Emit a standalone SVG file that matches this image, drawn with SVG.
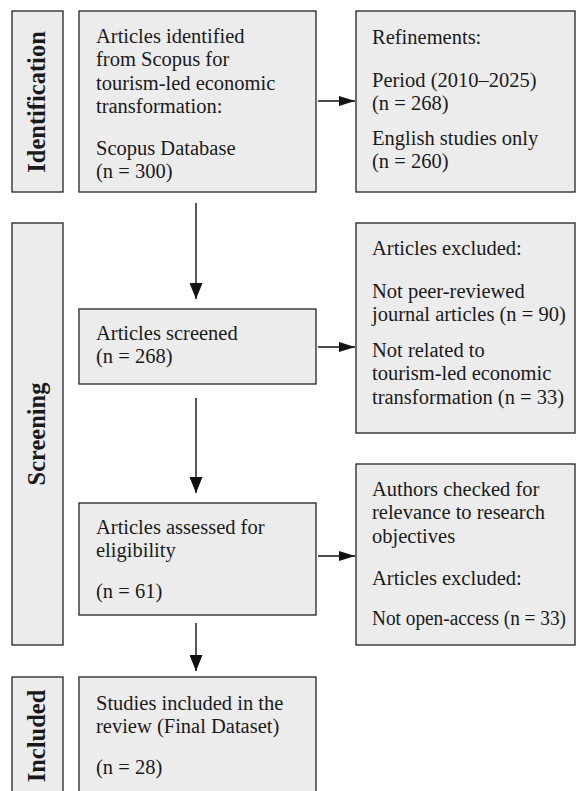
<svg xmlns="http://www.w3.org/2000/svg" width="586" height="791" viewBox="0 0 586 791">
<style>
.box{fill:#ececec;stroke:#333;stroke-width:1.4}
.t{font-family:"Liberation Serif","Times New Roman",serif;font-size:20.5px;fill:#1a1a1a}
.lab{font-family:"Liberation Serif","Times New Roman",serif;font-size:24.5px;font-weight:bold;fill:#1a1a1a}
.c{stroke:#111;stroke-width:1.4;fill:none}
</style>
<defs>
<marker id="av" markerUnits="userSpaceOnUse" markerWidth="16" markerHeight="13" refX="16" refY="6.5" orient="auto">
<path d="M0,0 L16,6.5 L0,13 z" fill="#111"/>
</marker>
<marker id="ah" markerUnits="userSpaceOnUse" markerWidth="16" markerHeight="10" refX="16" refY="5" orient="auto">
<path d="M0,0 L16,5 L0,10 z" fill="#111"/>
</marker>
</defs>
<g id="stage-identification">
<rect class="box" x="12" y="11" width="51" height="181"/>
<text class="lab" transform="translate(45,102) rotate(-90)" text-anchor="middle">Identification</text>
</g>
<g id="stage-screening">
<rect class="box" x="12" y="223" width="51" height="422"/>
<text class="lab" transform="translate(45,434) rotate(-90)" text-anchor="middle">Screening</text>
</g>
<g id="stage-included">
<rect class="box" x="12" y="677" width="51" height="130"/>
<text class="lab" transform="translate(45,736) rotate(-90)" text-anchor="middle">Included</text>
</g>
<g id="identified">
<rect class="box" x="79" y="11" width="237" height="181"/>
<text class="t" x="96" y="43">Articles identified</text>
<text class="t" x="96" y="66">from Scopus for</text>
<text class="t" x="96" y="90">tourism-led economic</text>
<text class="t" x="96" y="113">transformation:</text>
<text class="t" x="96" y="155">Scopus Database</text>
<text class="t" x="96" y="178">(n = 300)</text>
</g>
<g id="refinements">
<rect class="box" x="356" y="11" width="219" height="181"/>
<text class="t" x="372" y="44">Refinements:</text>
<text class="t" x="372" y="87">Period (2010–2025)</text>
<text class="t" x="372" y="110">(n = 268)</text>
<text class="t" x="372" y="145">English studies only</text>
<text class="t" x="372" y="168">(n = 260)</text>
</g>
<g id="screened">
<rect class="box" x="79" y="309" width="237" height="75"/>
<text class="t" x="96" y="340">Articles screened</text>
<text class="t" x="96" y="363">(n = 268)</text>
</g>
<g id="excluded1">
<rect class="box" x="356" y="223" width="219" height="210"/>
<text class="t" x="372" y="255">Articles excluded:</text>
<text class="t" x="372" y="298">Not peer-reviewed</text>
<text class="t" x="372" y="321">journal articles (n = 90)</text>
<text class="t" x="372" y="357">Not related to</text>
<text class="t" x="372" y="380">tourism-led economic</text>
<text class="t" x="372" y="404">transformation (n = 33)</text>
</g>
<g id="assessed">
<rect class="box" x="79" y="503" width="237" height="112"/>
<text class="t" x="96" y="534">Articles assessed for</text>
<text class="t" x="96" y="557">eligibility</text>
<text class="t" x="96" y="598">(n = 61)</text>
</g>
<g id="excluded2">
<rect class="box" x="356" y="464" width="219" height="181"/>
<text class="t" x="372" y="496">Authors checked for</text>
<text class="t" x="372" y="519">relevance to research</text>
<text class="t" x="372" y="543">objectives</text>
<text class="t" x="372" y="585">Articles excluded:</text>
<text class="t" x="372" y="625" textLength="194" lengthAdjust="spacingAndGlyphs">Not open-access (n = 33)</text>
</g>
<g id="included">
<rect class="box" x="79" y="677" width="237" height="130"/>
<text class="t" x="96" y="710">Studies included in the</text>
<text class="t" x="96" y="733">review (Final Dataset)</text>
<text class="t" x="96" y="774">(n = 28)</text>
</g>
<g id="connectors">
<line class="c" x1="318" y1="101" x2="355" y2="101" marker-end="url(#ah)"/>
<line class="c" x1="196" y1="203" x2="196" y2="299" marker-end="url(#av)"/>
<line class="c" x1="318" y1="347" x2="355" y2="347" marker-end="url(#ah)"/>
<line class="c" x1="196" y1="398" x2="196" y2="493" marker-end="url(#av)"/>
<line class="c" x1="318" y1="556" x2="355" y2="556" marker-end="url(#ah)"/>
<line class="c" x1="196" y1="623" x2="196" y2="671" marker-end="url(#av)"/>
</g>
</svg>
